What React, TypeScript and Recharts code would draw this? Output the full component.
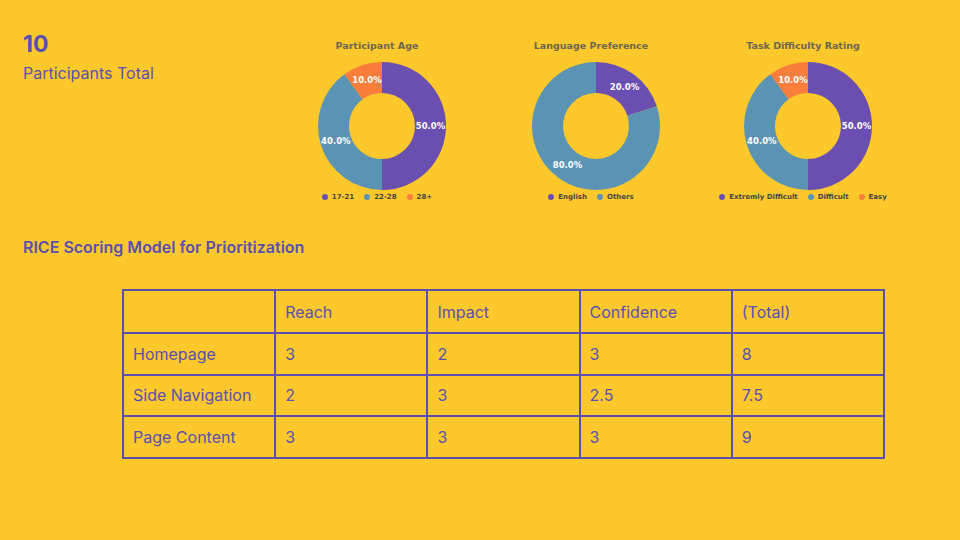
import React from "react";
import { PieChart, Pie, Cell, Legend } from "recharts";

const COLORS = ["#6a4fb0", "#5b93b5", "#f97e3c"];
const BG = "#fdc82b";
const INK = "#5a4fb0";

const ageLabels = ["17-21", "22-28", "28+"];
const ageValues = [5, 4, 1];
const languageLabels = ["English", "Others"];
const languageValues = [2, 8];
const difficultyLabels = ["Extremly Difficult", "Difficult", "Easy"];
const difficultyValues = [5, 4, 1];

const tableColumns = ["", "Reach", "Impact", "Confidence", "(Total)"];
const tableRows = [
  ["Homepage", "3", "2", "3", "8"],
  ["Side Navigation", "2", "3", "2.5", "7.5"],
  ["Page Content", "3", "3", "3", "9"],
];

const RADIAN = Math.PI / 180;

function renderLabel(props: any) {
  const { cx, cy, midAngle, innerRadius, outerRadius, percent } = props;
  const r = (innerRadius + outerRadius) / 2;
  const x = cx + r * Math.cos(-midAngle * RADIAN);
  const y = cy + r * Math.sin(-midAngle * RADIAN);
  return (
    <text x={x} y={y} fill="#ffffff" fontSize={8.5} fontWeight="bold" fontFamily="DejaVu Sans" textAnchor="middle" dominantBaseline="central">
      {(percent * 100).toFixed(1)}%
    </text>
  );
}

function Donut({ title, labels, values, left }: { title: string; labels: string[]; values: number[]; left: number }) {
  const data = labels.map((name, i) => ({ name, value: values[i] }));
  return (
    <div style={{ position: "absolute", left, top: 40, width: 220 }}>
      <div style={{ textAlign: "center", fontFamily: "DejaVu Sans", fontWeight: "bold", fontSize: 9.5, color: "#6b6650" }}>{title}</div>
      <PieChart width={220} height={170}>
        <Pie
          data={data}
          dataKey="value"
          cx={110}
          cy={70}
          innerRadius={33}
          outerRadius={64}
          startAngle={90}
          endAngle={-270}
          stroke="none"
          label={renderLabel}
          labelLine={false}
          isAnimationActive={false}
        >
          {data.map((d, i) => (
            <Cell key={d.name} fill={COLORS[i]} />
          ))}
        </Pie>
        <Legend
          verticalAlign="bottom"
          wrapperStyle={{ top: 142 }}
          content={() => (
            <div style={{ display: "flex", justifyContent: "center", gap: 10, fontFamily: "DejaVu Sans", fontSize: 7, fontWeight: "bold", color: "#444" }}>
              {labels.map((l, i) => (
                <span key={l} style={{ display: "flex", alignItems: "center", gap: 4 }}>
                  <span style={{ width: 6, height: 6, borderRadius: 3, background: COLORS[i], display: "inline-block" }} />
                  {l}
                </span>
              ))}
            </div>
          )}
        />
      </PieChart>
    </div>
  );
}

export default function App() {
  const font = "Inter, 'Noto Sans', sans-serif";
  return (
    <div style={{ position: "fixed", left: 0, top: 0, width: 960, height: 540, background: BG, fontFamily: font, color: INK, overflow: "hidden" }}>
      <div style={{ position: "absolute", left: 23, top: 30, fontSize: 23, fontWeight: "bold" }}>10</div>
      <div style={{ position: "absolute", left: 23, top: 63, fontSize: 16 }}>Participants Total</div>
      <Donut title="Participant Age" labels={ageLabels} values={ageValues} left={267} />
      <Donut title="Language Preference" labels={languageLabels} values={languageValues} left={481} />
      <Donut title="Task Difficulty Rating" labels={difficultyLabels} values={difficultyValues} left={693} />
      <div style={{ position: "absolute", left: 23, top: 237, fontSize: 16, fontWeight: 600 }}>RICE Scoring Model for Prioritization</div>
      <table style={{ position: "absolute", left: 122, top: 289, width: 763, borderCollapse: "collapse", fontSize: 16, tableLayout: "fixed" }}>
        <tbody>
          {[tableColumns, ...tableRows].map((row, ri) => (
            <tr key={ri} style={{ height: ri === 0 ? 43 : 41.5 }}>
              {row.map((c, ci) => (
                <td key={ci} style={{ border: `2px solid ${INK}`, padding: "0 9px", color: INK }}>{c}</td>
              ))}
            </tr>
          ))}
        </tbody>
      </table>
    </div>
  );
}
